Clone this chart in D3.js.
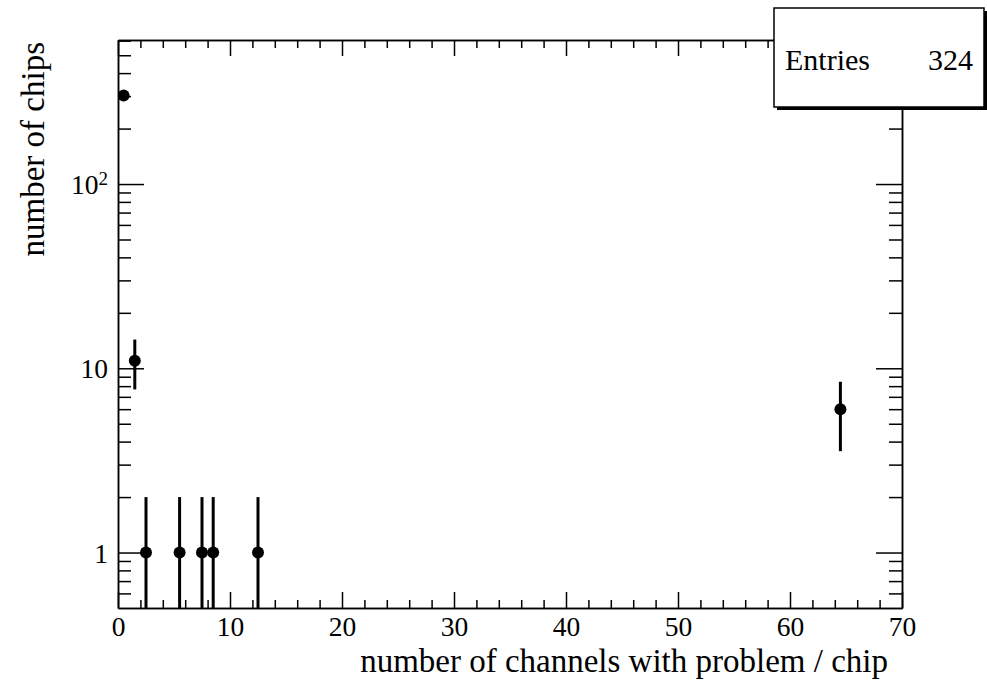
<!DOCTYPE html>
<html>
<head>
<meta charset="utf-8">
<script src="https://cdn.jsdelivr.net/npm/d3@7"></script>
<style>
  body { margin: 0; background: #fff; }
  svg { display: block; font-family: 'Liberation Serif', 'Times New Roman', serif; }
</style>
</head>
<body>
<div id="chart"></div>
<script>
// histogram bins (centres), contents and poisson errors
const binCenters = [0.5, 1.5, 2.5, 5.5, 7.5, 8.5, 12.5, 64.5];
const binCounts = [302, 11, 1, 1, 1, 1, 1, 6];
const binErrors = [17.4, 3.32, 1, 1, 1, 1, 1, 2.45];

const xMajorTicks = [0, 10, 20, 30, 40, 50, 60, 70];
const xMinorTicks = [2, 4, 6, 8, 12, 14, 16, 18, 22, 24, 26, 28, 32, 34, 36, 38, 42, 44, 46, 48, 52, 54, 56, 58, 62, 64, 66, 68];
const yMajorTicks = [1, 10, 100];
const yMajorLabels = ['1', '10', '10^2'];
const yMinorTicks = [0.6, 0.7, 0.8, 0.9, 2, 3, 4, 5, 6, 7, 8, 9, 20, 30, 40, 50, 60, 70, 80, 90, 200, 300, 400, 500, 600];

const xTitle = 'number of channels with problem / chip';
const yTitle = 'number of chips';
const entries = 324;

const width = 987;
const height = 680;
const padLeft = 118;
const padRight = 902;
const padTop = 40;
const padBottom = 608;

const svg = d3
  .select('#chart')
  .append('svg')
  .attr('width', width)
  .attr('height', height);

const xScale = d3.scaleLinear().domain([0, 70]).range([padLeft, padRight]);
const yScale = d3.scaleLog().domain([0.5, 605]).range([padBottom, padTop]);

const plotH = padBottom - padTop;
const plotW = padRight - padLeft;

// clip for error bars hitting the bottom of the frame
svg
  .append('clipPath')
  .attr('id', 'clip')
  .append('rect')
  .attr('x', padLeft)
  .attr('y', padTop)
  .attr('width', plotW)
  .attr('height', plotH);

// axes, ROOT style: ticks inside on all four sides
const axisStyle = (g) => {
  g.select('.domain').attr('stroke', '#000').attr('stroke-width', 1.5);
  g.selectAll('.tick line').attr('stroke', '#000').attr('stroke-width', 1.5);
};

svg
  .append('g')
  .attr('transform', `translate(0, ${padBottom})`)
  .call(d3.axisBottom(xScale).tickValues(xMinorTicks).tickSize(-8).tickSizeOuter(0).tickFormat(''))
  .call(axisStyle);

svg
  .append('g')
  .attr('transform', `translate(0, ${padBottom})`)
  .call(d3.axisBottom(xScale).tickValues(xMajorTicks).tickSize(-16).tickSizeOuter(0).tickPadding(8))
  .call(axisStyle)
  .call((g) => g.selectAll('.tick text')
    .attr('fill', '#000')
    .attr('font-size', 27.5)
    .attr('font-family', 'Liberation Serif, serif'));

svg
  .append('g')
  .attr('transform', `translate(0, ${padTop})`)
  .call(d3.axisTop(xScale).tickValues(xMinorTicks).tickSize(-8).tickSizeOuter(0).tickFormat(''))
  .call(axisStyle);

svg
  .append('g')
  .attr('transform', `translate(0, ${padTop})`)
  .call(d3.axisTop(xScale).tickValues(xMajorTicks).tickSize(-16).tickSizeOuter(0).tickFormat(''))
  .call(axisStyle);

svg
  .append('g')
  .attr('transform', `translate(${padLeft}, 0)`)
  .call(d3.axisLeft(yScale).tickValues(yMinorTicks).tickSize(-13).tickSizeOuter(0).tickFormat(''))
  .call(axisStyle);

svg
  .append('g')
  .attr('transform', `translate(${padLeft}, 0)`)
  .call(d3.axisLeft(yScale).tickValues(yMajorTicks).tickSize(-26).tickSizeOuter(0).tickFormat(''))
  .call(axisStyle);

svg
  .append('g')
  .attr('transform', `translate(${padRight}, 0)`)
  .call(d3.axisRight(yScale).tickValues(yMinorTicks).tickSize(-13).tickSizeOuter(0).tickFormat(''))
  .call(axisStyle);

svg
  .append('g')
  .attr('transform', `translate(${padRight}, 0)`)
  .call(d3.axisRight(yScale).tickValues(yMajorTicks).tickSize(-26).tickSizeOuter(0).tickFormat(''))
  .call(axisStyle);

// y labels (with superscript exponent)
yMajorTicks.forEach((v, i) => {
  const parts = yMajorLabels[i].split('^');
  const t = svg
    .append('text')
    .attr('x', padLeft - 10)
    .attr('y', yScale(v) + 10)
    .attr('text-anchor', 'end')
    .attr('font-size', 27.5)
    .attr('fill', '#000');
  t.append('tspan').text(parts[0]);
  if (parts[1]) {
    t.append('tspan').attr('font-size', 19).attr('dy', -9).text(parts[1]);
  }
});

// error bars
const plot = svg.append('g').attr('clip-path', 'url(#clip)');

plot
  .selectAll('line.err')
  .data(binCenters)
  .enter()
  .append('line')
  .attr('class', 'err')
  .attr('x1', (d) => xScale(d))
  .attr('x2', (d) => xScale(d))
  .attr('y1', (d, i) => yScale(binCounts[i] + binErrors[i]))
  .attr('y2', (d, i) => (binCounts[i] - binErrors[i] > 0.5 ? yScale(binCounts[i] - binErrors[i]) : padBottom + 5))
  .attr('stroke', '#000')
  .attr('stroke-width', 3);

plot
  .selectAll('circle')
  .data(binCenters)
  .enter()
  .append('circle')
  .attr('cx', (d) => xScale(d))
  .attr('cy', (d, i) => yScale(binCounts[i]))
  .attr('r', 6)
  .attr('fill', '#000');

// axis titles
svg
  .append('text')
  .attr('x', 888)
  .attr('y', 672)
  .attr('text-anchor', 'end')
  .attr('font-size', 33)
  .attr('fill', '#000')
  .text(xTitle);

svg
  .append('text')
  .attr('transform', `translate(44, 42) rotate(-90)`)
  .attr('text-anchor', 'end')
  .attr('font-size', 33)
  .attr('fill', '#000')
  .text(yTitle);

// stats box
const box = { x: 774, y: 8, w: 210, h: 99 };
svg
  .append('rect')
  .attr('x', box.x + 3)
  .attr('y', box.y + 3)
  .attr('width', box.w)
  .attr('height', box.h)
  .attr('fill', '#000');
svg
  .append('rect')
  .attr('x', box.x)
  .attr('y', box.y)
  .attr('width', box.w)
  .attr('height', box.h)
  .attr('fill', '#fff')
  .attr('stroke', '#000')
  .attr('stroke-width', 1.5);
svg
  .append('text')
  .attr('x', box.x + 11)
  .attr('y', 70)
  .attr('font-size', 30)
  .attr('fill', '#000')
  .text('Entries');
svg
  .append('text')
  .attr('x', 973)
  .attr('y', 70)
  .attr('text-anchor', 'end')
  .attr('font-size', 30)
  .attr('fill', '#000')
  .text(entries);
</script>
</body>
</html>
